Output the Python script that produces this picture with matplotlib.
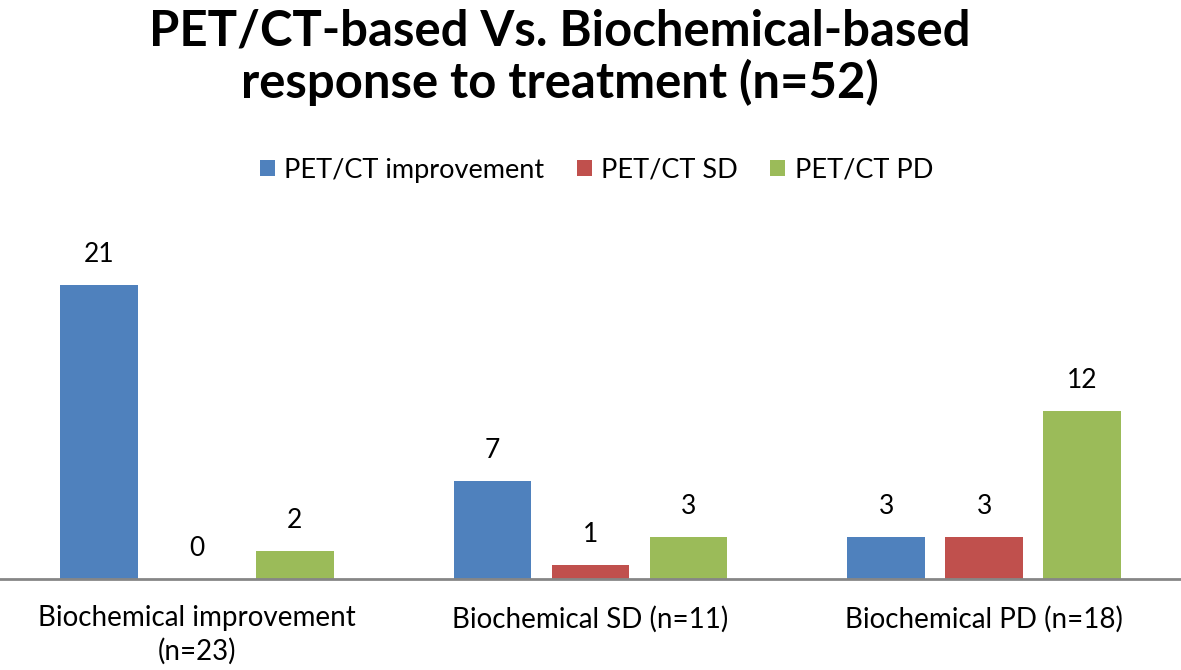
import matplotlib
matplotlib.use('Agg')
from matplotlib import pyplot as plt
from matplotlib.patches import Patch
import numpy as np

categories = ['Biochemical improvement\n(n=23)', 'Biochemical SD (n=11)', 'Biochemical PD (n=18)']
series_names = ['PET/CT improvement', 'PET/CT SD', 'PET/CT PD']
pet_improvement = [21, 7, 3]
pet_sd = [0, 1, 3]
pet_pd = [2, 3, 12]
colors = ['#4F81BD', '#C0504D', '#9BBB59']

plt.rcParams['font.family'] = ['Lato', 'DejaVu Sans']


def main():
    fig = plt.figure(figsize=(11.81, 6.70), dpi=100)
    ax = fig.add_axes([0, 91 / 670, 1, 336 / 670])

    x = np.arange(len(categories))
    width = 0.198
    step = 0.249
    all_series = [pet_improvement, pet_sd, pet_pd]
    for i, vals in enumerate(all_series):
        rects = ax.bar(x + (i - 1) * step, vals, width, color=colors[i], label=series_names[i])
        for rect in rects:
            h = rect.get_height()
            ax.annotate('%d' % int(h), (rect.get_x() + rect.get_width() / 2., h),
                        xytext=(0, 13), textcoords='offset points',
                        ha='center', va='bottom', fontsize=19)

    ax.set_xlim(-0.5, 2.5)
    ax.set_ylim(0, 24)
    ax.set_xticks(x)
    ax.set_xticklabels(categories, fontsize=20, linespacing=1.3)
    ax.tick_params(axis='x', length=0, pad=19)
    ax.set_yticks([])
    for side in ['top', 'left', 'right']:
        ax.spines[side].set_visible(False)
    ax.spines['bottom'].set_color('#868686')
    ax.spines['bottom'].set_linewidth(2)

    fig.text(0.474, 0.988, 'PET/CT-based Vs. Biochemical-based\nresponse to treatment (n=52)',
             ha='center', va='top', fontsize=35.3, fontweight='bold', linespacing=1.15)

    handles = [Patch(facecolor=c) for c in colors]
    fig.legend(handles, series_names, loc='center', bbox_to_anchor=(0.505, 0.746),
               ncol=3, frameon=False, fontsize=19.5, handlelength=0.55, handleheight=0.55,
               columnspacing=1.2, handletextpad=0.35)

    fig.savefig('out.png', dpi=100)
    plt.close(fig)


if __name__ == '__main__':
    main()
